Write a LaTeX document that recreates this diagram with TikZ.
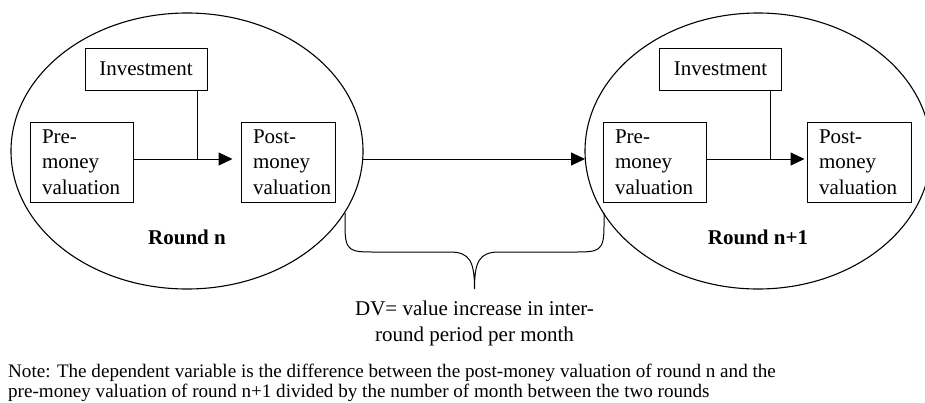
\documentclass[tikz,border=0pt]{standalone}
\usepackage{fontspec}
\setmainfont{Liberation Serif}
\usetikzlibrary{shapes.geometric,arrows.meta,calc}
\begin{document}
\begin{tikzpicture}[x=1pt,y=-1pt,
  every node/.style={font=\fontsize{21}{25.5}\selectfont},
  round/.style={draw, ellipse, line width=1.1pt, inner sep=0pt},
  vbox/.style={draw, line width=1pt, inner xsep=12pt, inner ysep=0pt, align=left, minimum height=80pt},
  ibox/.style={draw, line width=1pt, inner sep=0pt, minimum width=122pt, minimum height=42pt},
  conn/.style={line width=1pt},
  arr/.style={line width=1pt, -{Triangle[length=14pt,width=13pt]}},
  lbl/.style={font=\fontsize{21}{25.5}\selectfont\bfseries}
]
\useasboundingbox (0,0) rectangle (925,402);
% ellipses
\node[round, minimum width=352pt, minimum height=276pt] (L) at (187,151) {};
\node[round, minimum width=346pt, minimum height=276pt] (R) at (758,151) {};
% left round
\node[ibox] (inv1) at (146,69) {Investment};
\node[vbox, text width=79pt] (pre1) at (81.5,162) {Pre-\\money\\\mbox{valuation}};
\node[vbox, text width=70pt] (post1) at (288,162) {Post-\\money\\\mbox{valuation}};
\node[lbl] (rn1) at (187,237) {Round n};
% right round
\node[ibox] (inv2) at (720.5,69) {Investment};
\node[vbox, text width=79pt] (pre2) at (654.5,162) {Pre-\\money\\\mbox{valuation}};
\node[vbox, text width=80pt] (post2) at (859,162) {Post-\\money\\\mbox{valuation}};
\node[lbl] (rn2) at (758,237) {Round n+1};
% arrows inside rounds
\coordinate (j1) at (197,159);
\coordinate (j2) at (770,159);
\draw[conn] (inv1.south -| j1) -- (j1);
\draw[arr, shorten >=8pt] (pre1.east |- j1) -- (post1.west |- j1);
\draw[conn] (inv2.south -| j2) -- (j2);
\draw[arr, shorten >=2pt] (pre2.east |- j2) -- (post2.west |- j2);
% arrow between rounds
\coordinate (a1) at (362.5,159);
\coordinate (a2) at (585,159);
\draw[arr] (a1) -- (a2);
% brace
\coordinate (b1) at (345,213);
\coordinate (b2) at (604,213);
\coordinate (bt) at (474.5,289);
\draw[conn] (b1) -- (345,226) .. controls (345,252) and (350,252) .. (376,252) -- (450,252)
  .. controls (470,252) and (474.5,262) .. (bt)
  .. controls (474.5,262) and (479,252) .. (499,252) -- (573,252)
  .. controls (599,252) and (604,252) .. (604,226) -- (b2);
% texts
\node[align=center, anchor=base, inner sep=0pt] (dv) at (474.5,341) {DV= value increase in inter-\\round period per month};
\node[align=left, anchor=base west, inner sep=0pt, font=\fontsize{19.1}{20}\selectfont] (note) at (8,397) {Note: The dependent variable is the difference between the post-money valuation of round n and the\\pre-money valuation of round n+1 divided by the number of month between the two rounds};
\end{tikzpicture}
\end{document}
